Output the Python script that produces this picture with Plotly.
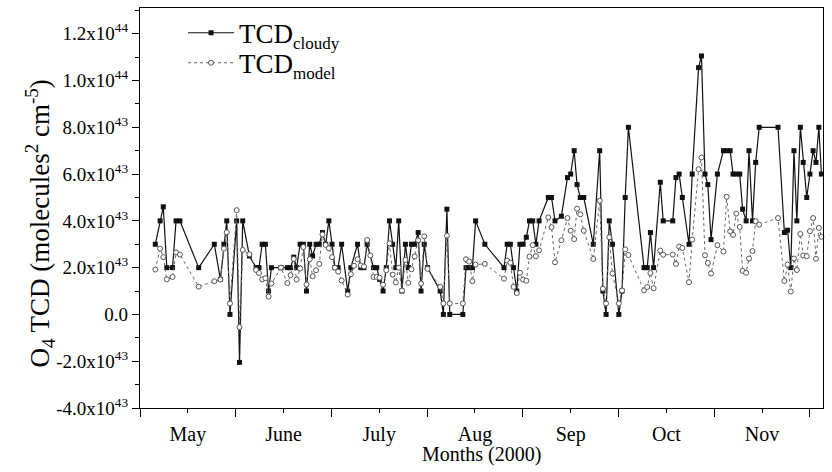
import numpy as np
import plotly.graph_objects as go

# Day index (0 = start of May tick), shared by both series
days = [4.8, 6.3, 7.3, 8.4, 10.2, 11.3, 12.5, 18.4, 23.3, 25.2, 26.3, 27.2, 28.2, 30.3, 31.2, 32.2,
        34.3, 36.4, 37.3, 38.3, 39.3, 40.3, 41.2, 44.2, 46.2, 47.2, 48.2, 49.1, 50.2, 51.2, 52.2, 53.2,
        54.1, 55.2, 56.2, 57.2, 58.2, 59.2, 60.2, 61.1, 62.1, 63.2, 65.1, 66.1, 67.1, 68.2, 69.2, 70.2,
        71.2, 72.2, 73.2, 74.2, 75.1, 76.2, 77.2, 78.2, 79.2, 80.2, 81.1, 82.1, 83.2, 84.1, 85.1, 86.1,
        87.2, 88.1, 89.1, 90.1, 94.1, 95.1, 96.2, 97.1, 101.2, 102.2, 103.2, 104.2, 105.2, 108.1, 114.1,
        115.1, 116.1, 117.1, 118.1, 119.1, 120.1, 121.1, 122.1, 123.1, 124.1, 125.1, 128.0, 129.0, 130.1,
        132.1, 134.0, 135.0, 136.1, 137.0, 138.0, 139.1, 142.1, 144.1, 145.1, 146.1, 147.1, 148.1, 150.1,
        151.1, 152.1, 153.1, 158.0, 159.0, 160.0, 161.0, 163.1, 164.0, 167.0, 168.0, 169.0, 170.0, 172.1,
        173.1, 175.1, 176.0, 177.1, 178.0, 179.0, 181.0, 182.9, 183.9, 185.0, 185.9, 186.9, 188.0, 188.9,
        190.0, 190.9, 192.0, 193.0, 194.1, 200.0, 202.0, 203.0, 204.0, 205.0, 205.9, 207.0, 207.9, 209.0,
        210.0, 211.0, 211.9, 212.8, 213.6]

# TCD cloudy, in units of 1e43 (None = not visible)
tcd_cloudy = [3.0, 4.0, 4.6, 2.0, 2.0, 4.0, 4.0, 2.0, 3.0, 1.5, 3.0, 4.0, 0.0, 4.0, -2.05, 4.0,
              2.5, 2.0, 2.0, 3.0, 3.0, 1.0, 2.0, 2.0, 2.0, 2.0, 2.45, 2.0, 3.0, 3.0, 1.0, 3.0,
              2.5, 3.0, 3.0, 3.5, 3.0, 4.0, 3.0, 2.0, 2.0, 3.0, 1.0, 2.0, None, 3.0, 2.0, 2.0,
              3.0, None, 2.0, 2.0, 1.5, 1.0, 2.0, 4.0, 3.0, 2.0, 4.0, 1.0, 3.0, 2.0, 3.0, 3.0,
              3.5, 1.0, 3.0, 2.0, 1.0, 0.0, 4.5, 0.0, 0.0, 2.0, 2.0, 2.0, 4.0, 3.0, 2.0,
              3.0, 3.0, 2.0, 1.0, 3.0, 3.0, 3.3, 4.0, 4.0, 3.0, 4.0, 5.0, 5.0, 4.0,
              4.2, 5.85, 6.0, 7.0, 5.55, 5.0, 5.0, 3.0, 7.0, 1.0, 0.0, 4.0, 3.0, 0.0,
              1.0, 5.0, 8.0, 2.0, 2.0, 3.5, 2.0, 5.65, 4.0, 4.0, 5.85, 6.0, 5.0, 3.0,
              6.0, 10.55, 11.05, 6.0, 5.55, 3.2, 6.0, 7.0, 7.0, 7.0, 6.0, 6.0, 6.0, 4.5,
              4.0, 7.0, 4.0, 6.5, 8.0, 8.0, 3.5, 3.6, 2.0, 7.0, 4.0, 8.0, 6.5, 5.0,
              6.0, 7.0, 6.5, 8.0, 6.0]

# TCD model, in units of 1e43
tcd_model = [1.92, 2.81, 2.45, 1.5, 1.6, 2.65, 2.56, 1.19, 1.42, 1.49, 2.81, 3.51, 0.47, 4.46, -0.54, 2.76,
             2.57, 1.9, 1.77, 1.5, 1.55, 0.76, 1.32, 2.0, 1.34, 1.68, 2.37, 1.49, 1.96, 2.88, 1.28, 2.36,
             1.63, 1.89, 2.16, 3.42, 2.97, 2.83, 2.45, 2.0, 1.83, 1.45, 0.85, 1.72, 2.08, 2.36, 2.09, 2.05,
             3.18, 2.52, 1.6, 1.6, 1.57, 1.27, 1.89, 3.04, 1.7, 1.37, 2.0, 1.02, 2.33, 1.35, 1.93, 2.48,
             3.17, 1.32, 3.34, 1.95, 1.18, 0.47, 3.37, 0.47, 0.47, 2.36, 2.26, 1.42, 2.13, 2.16, 1.53,
             2.3, 2.21, 1.18, 0.91, 1.78, 1.49, 1.44, 2.47, 2.96, 2.49, 2.74, 4.15, 3.73, 2.23,
             3.17, 4.12, 3.58, 3.22, 4.52, 4.28, 3.58, 2.37, 4.86, 1.1, 0.47, 3.3, 1.75, 0.47,
             1.02, 2.78, 2.54, 1.03, 1.17, 1.77, 1.12, 2.73, 2.55, 2.56, 2.16, 2.9, 2.84, 1.38,
             3.2, 6.21, 6.71, 2.53, 2.2, 1.75, 2.96, 2.69, 5.03, 3.55, 3.4, 4.31, 3.74, 1.86,
             1.78, 2.39, 2.71, 3.98, 3.84, 4.12, 1.43, 2.13, 0.98, 2.39, 1.9, 3.44, 2.52, 2.49,
             3.56, 4.12, 2.38, 3.7, 3.32]

month_labels = ["May", "June", "July", "Aug", "Sep", "Oct", "Nov"]
y_tick_values = [-4e43, -2e43, 0, 2e43, 4e43, 6e43, 8e43, 1e44, 1.2e44]
y_tick_labels = ["-4.0x10<sup>43</sup>", "-2.0x10<sup>43</sup>", "0.0", "2.0x10<sup>43</sup>",
                 "4.0x10<sup>43</sup>", "6.0x10<sup>43</sup>", "8.0x10<sup>43</sup>",
                 "1.0x10<sup>44</sup>", "1.2x10<sup>44</sup>"]

FONT = "Liberation Serif, Times New Roman, serif"

yc = np.array([np.nan if v is None else v for v in tcd_cloudy]) * 1e43
ym = np.array(tcd_model) * 1e43

fig = go.Figure()
fig.add_trace(go.Scatter(
    x=days, y=yc, mode="lines+markers",
    name='TCD<sub><span style="font-size:17px">cloudy</span></sub>',
    connectgaps=True, cliponaxis=False, legend="legend",
    line=dict(color="#111111", width=1.2),
    marker=dict(symbol="square", size=5, color="#111111"),
))
fig.add_trace(go.Scatter(
    x=days, y=ym, mode="lines+markers",
    name='TCD<sub><span style="font-size:17px">model</span></sub>',
    cliponaxis=False, legend="legend2",
    line=dict(color="#666666", width=1, dash="dot"),
    marker=dict(symbol="circle", size=5, color="white", line=dict(color="#555555", width=1)),
))

month_mid = [15 + 30 * i for i in range(len(month_labels))]
month_bounds = [30 * i for i in range(len(month_labels) + 1)]

leg_common = dict(x=0.063, xanchor="left", yanchor="middle",
                  bgcolor="rgba(0,0,0,0)", font=dict(size=27, family=FONT),
                  itemwidth=46)

fig.update_layout(
    width=832, height=472,
    margin=dict(l=140, r=9, t=8, b=64),
    paper_bgcolor="white", plot_bgcolor="white",
    font=dict(family=FONT, color="black", size=16),
    showlegend=True,
    legend=dict(y=0.937, **leg_common),
    legend2=dict(y=0.862, **leg_common),
    xaxis=dict(
        range=[0, 214.1], showgrid=False, zeroline=False,
        showline=True, linecolor="black", linewidth=1.2, mirror=True,
        tickmode="array", tickvals=month_mid, ticktext=month_labels,
        ticks="outside", ticklen=4, tickwidth=1.2, tickcolor="black",
        ticklabelstandoff=4,
        minor=dict(tickmode="array", tickvals=month_bounds, ticks="outside",
                   ticklen=8, tickwidth=1.2, tickcolor="black"),
        tickfont=dict(size=20),
    ),
    yaxis=dict(
        range=[-4e43, 1.31e44], showgrid=False, zeroline=False,
        showline=True, linecolor="black", linewidth=1.2, mirror=True,
        tickmode="array", tickvals=y_tick_values, ticktext=y_tick_labels,
        ticks="outside", ticklen=7, tickwidth=1.2, tickcolor="black",
        minor=dict(dtick=1e43, tick0=0, ticks="outside", ticklen=4,
                   tickwidth=1.2, tickcolor="black"),
        tickfont=dict(size=19),
    ),
    annotations=[
        dict(text="O<sub>4</sub> TCD (molecules<sup>2</sup> cm<sup>-5</sup>)",
             textangle=-90, xref="paper", yref="paper", x=-0.147, y=0.46,
             xanchor="center", yanchor="middle", showarrow=False,
             font=dict(size=27, family=FONT)),
        dict(text="Months (2000)", xref="paper", yref="paper", x=0.5, y=-0.117,
             xanchor="center", yanchor="middle", showarrow=False,
             font=dict(size=20, family=FONT)),
    ],
)

fig.write_html("out.html",
               config={"displayModeBar": False},
               post_script="document.body.style.margin='0';"
                           "document.documentElement.style.overflow='hidden';")
